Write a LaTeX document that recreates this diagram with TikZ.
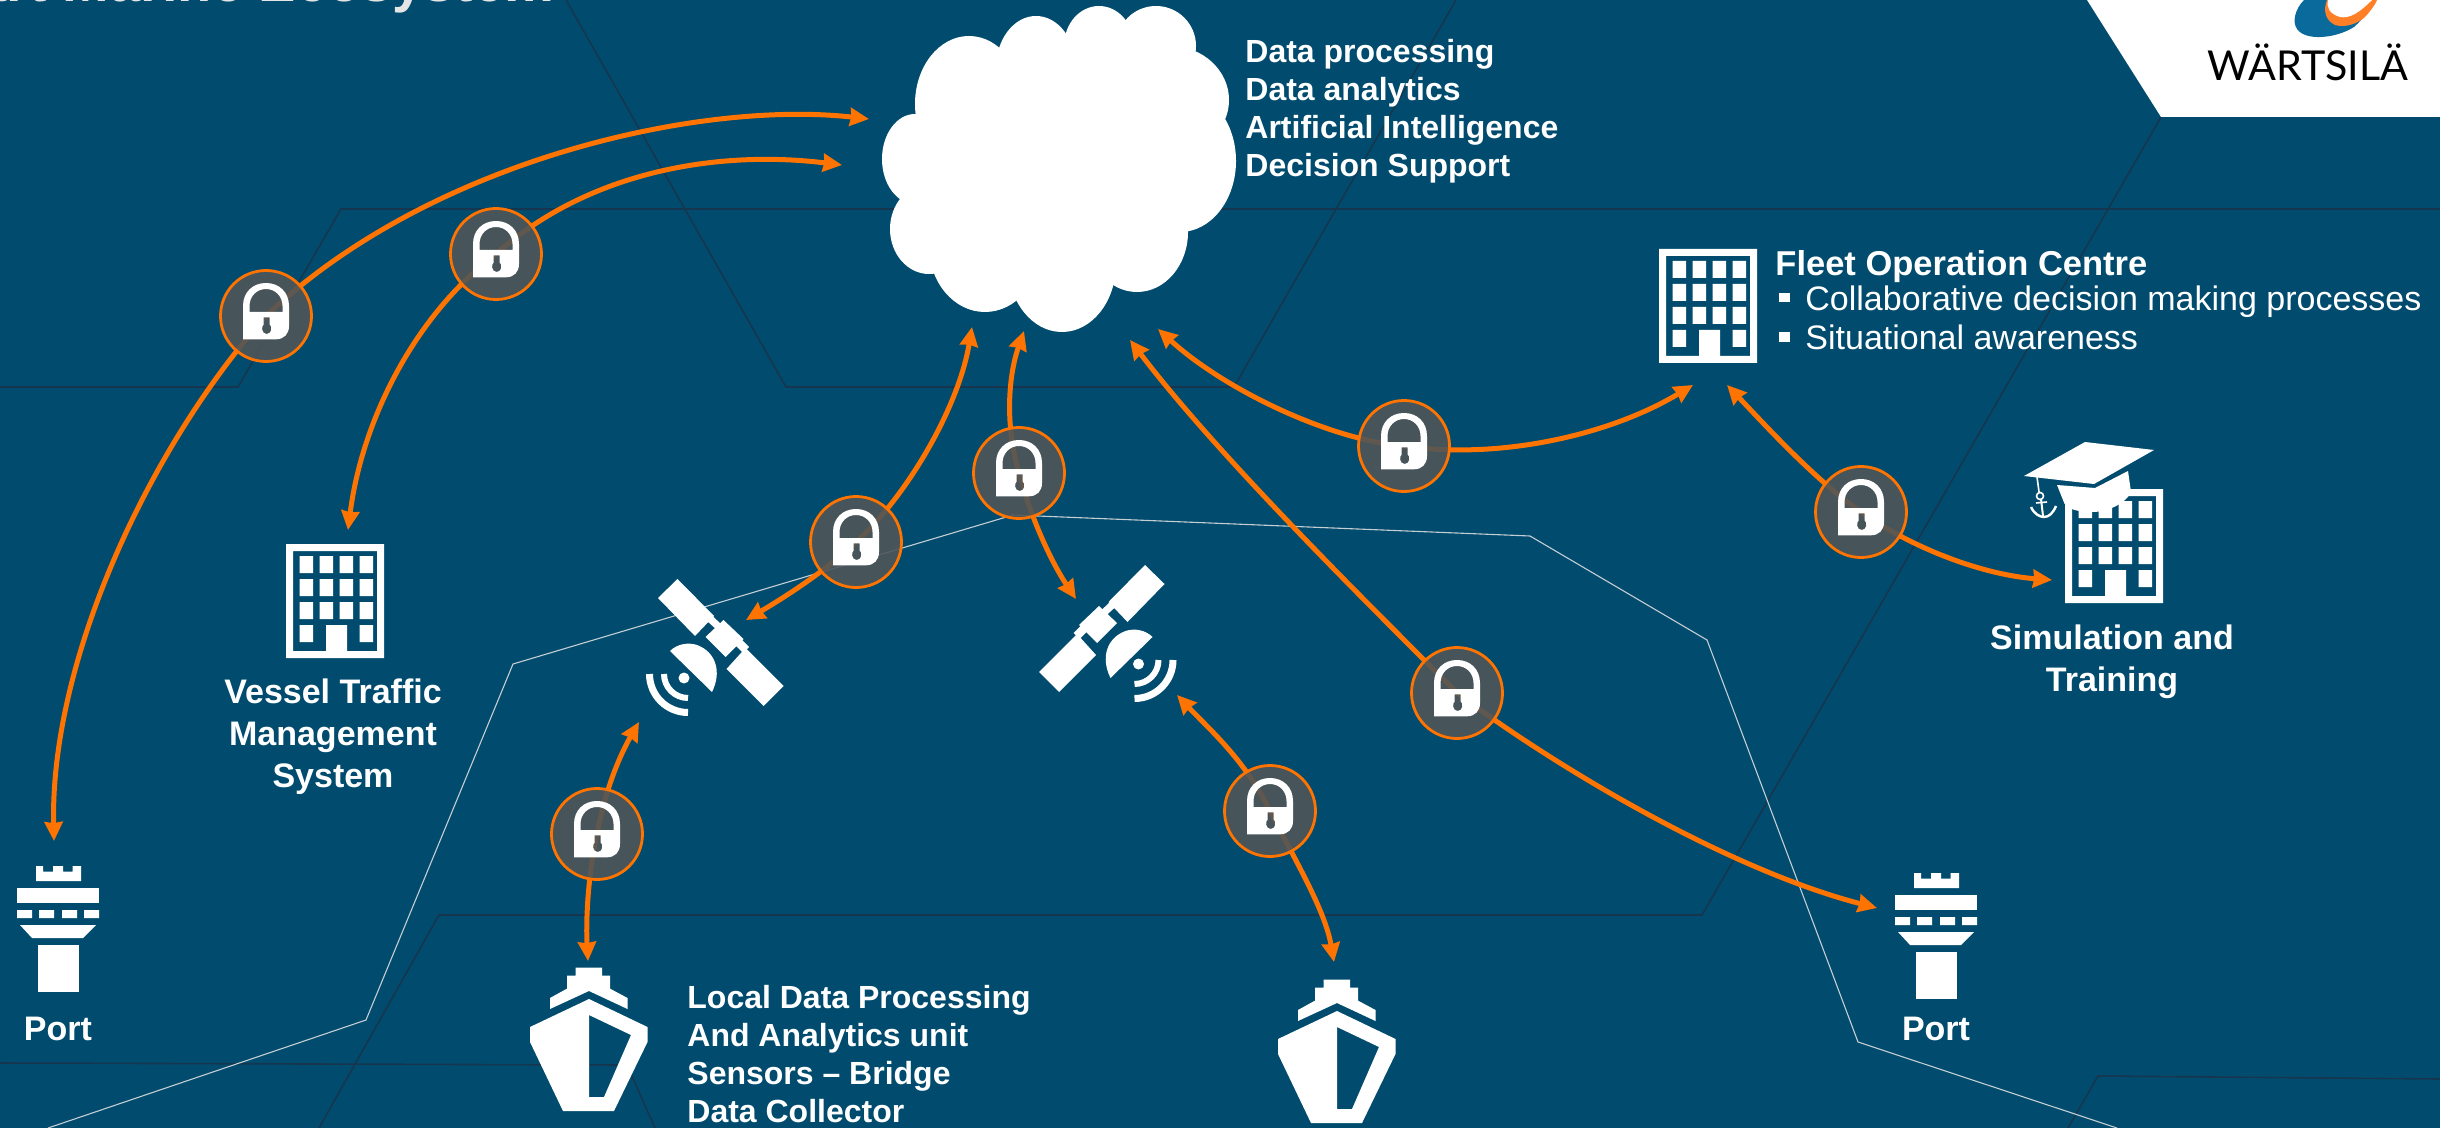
\documentclass[tikz,border=0pt]{standalone}
\usepackage{fontspec}
\setmainfont{Liberation Sans}
\newfontfamily\logofont{Lato}
\usetikzlibrary{arrows.meta}
\pgfdeclarelayer{under}
\pgfsetlayers{under,main}
\definecolor{sea}{HTML}{014C6E}
\definecolor{gridc}{HTML}{163650}
\definecolor{lightl}{HTML}{C5CED3}
\definecolor{orng}{HTML}{FF7300}
\definecolor{lockg}{HTML}{4F5558}
\definecolor{logob}{HTML}{0B6A9C}
\definecolor{logoo}{HTML}{FF7F27}
\tikzset{
  x=0.5pt,y=-0.5pt,
  darkline/.style={draw=gridc,line width=0.8pt},
  paleline/.style={draw=lightl,line width=0.55pt},
  link/.style={draw=orng,line width=2.5pt},
  linkarrow/.style={link,-{Stealth[length=9.5pt,width=9pt,inset=0.6pt]}},
  lockdisc/.style={circle,minimum size=45.5pt,inner sep=0pt,draw=orng,line width=1.4pt,fill=lockg,fill opacity=0.9},
  lbl/.style={text=white,inner sep=0pt,font=\fontsize{17}{21}\selectfont\bfseries},
  lblsmall/.style={text=white,inner sep=0pt,font=\fontsize{16}{19}\selectfont\bfseries},
  plain/.style={text=white,inner sep=0pt,font=\fontsize{17}{20}\selectfont},
  padlock/.pic={
    \fill[white,even odd rule]
      (-23,23.3) -- (-23,-10) .. controls (-23,-24) and (-13,-33) .. (0,-33) .. controls (13,-33) and (23,-24) .. (23,-10) -- (23,10) .. controls (23,18) and (18,23.3) .. (10,23.3) -- cycle
      (-16.5,-4) -- (16.5,-4) -- (16.5,-10) .. controls (16.5,-20) and (9,-27) .. (0,-27) .. controls (-9,-27) and (-16.5,-20) .. (-16.5,-10) -- cycle
      (-2.3,1.3) -- (3.7,1.3) -- (3.7,8.5) .. controls (6.5,10) and (6,18) .. (0.7,18) .. controls (-4.6,18) and (-5,10) .. (-2.3,8.5) -- cycle;
  },
  office/.pic={
    \fill[white,even odd rule] (0,0) rectangle (98,114)
      (7,7) -- (91,7) -- (91,107) -- (61,107) -- (61,81) -- (40,81) -- (40,107) -- (7,107) -- cycle
      (13.5,12) rectangle (27,29) (33.5,12) rectangle (47,29) (53.5,12) rectangle (67,29) (73.5,12) rectangle (87,29)
      (13.5,35) rectangle (27,52) (33.5,35) rectangle (47,52) (53.5,35) rectangle (67,52) (73.5,35) rectangle (87,52)
      (13.5,58) rectangle (27,75) (33.5,58) rectangle (47,75) (53.5,58) rectangle (67,75) (73.5,58) rectangle (87,75)
      (13.5,81) rectangle (27,98) (73.5,81) rectangle (87,98);
  },
  tower/.pic={
    \fill[white] (-22,0) -- (-15,0) -- (-15,5.5) -- (-5,5.5) -- (-5,0) -- (5,0) -- (5,5.5) -- (14.5,5.5) -- (14.5,0) -- (23,0) -- (23,15) -- (-22,15) -- cycle;
    \fill[white] (-41,22) rectangle (41,37);
    \fill[white] (-41,44) rectangle (-26,52) (-19,44) rectangle (-4,52) (4,44) rectangle (19,52) (26,44) rectangle (41,52);
    \fill[white] (-38,59) -- (38,59) -- (25,72) -- (-26,72) -- cycle;
    \fill[white] (-20,79) rectangle (21,126);
  },
  vessel/.pic={
    \fill[white] (-13.5,0) -- (13,0) -- (13,8) -- (21,8) -- (21,21) -- (38.5,30.4) -- (38.5,41.4) -- (0,23.4) -- (-39,41.4) -- (-39,30.4) -- (-22,21) -- (-22,8) -- (-13.5,8) -- cycle;
    \fill[white,even odd rule] (0,31.4) -- (58.5,59.4) -- (58.5,74.4) -- (25,143.4) -- (-26,143.4) -- (-59,74.4) -- (-59,59.4) -- cycle
      (0,47.4) -- (42,67.4) -- (15,129.4) -- (0,129.4) -- cycle;
  },
  sat/.pic={
    \fill[white] (677.5,579) -- (714,616) -- (695,636) -- (658,598) -- cycle;
    \fill[white] (743.5,639) -- (725.5,657) -- (705.5,637) -- (723.5,620) -- cycle;
    \fill[white] (783.5,686) -- (763.5,706) -- (726.5,669) -- (745.5,648) -- cycle;
    \fill[white] (712.5,616) -- (722,625) -- (717,630) -- (707,621) -- cycle;
    \fill[white] (741,639) -- (749,647) -- (743,653) -- (735,645) -- cycle;
    \fill[white] (670,651) .. controls (677,644) and (688,642) .. (697,645) .. controls (716,652) and (722,672) .. (712,692) -- cycle;
    \fill[white] (684,678) circle[radius=5.5];
    \draw[white,line width=3.5pt] (649.5,674) arc[start angle=180,end angle=90,radius=38.5];
    \draw[white,line width=3pt] (664,674) arc[start angle=180,end angle=90,radius=24];
  }
}
\begin{document}
\begin{tikzpicture}
\useasboundingbox (0,0) rectangle (2440,1128);
\clip (0,0) rectangle (2440,1128);

% locks and their padlocks
\node[lockdisc] (L1) at (266,316) {};
\node[lockdisc] (L2) at (496,254) {};
\node[lockdisc] (L3) at (856,542) {};
\node[lockdisc] (L4) at (1019,473) {};
\node[lockdisc] (L5) at (1404,446) {};
\node[lockdisc] (L6) at (1861,512) {};
\node[lockdisc] (L7) at (1457,693) {};
\node[lockdisc] (L8) at (1270,811) {};
\node[lockdisc] (L9) at (597,834) {};
\foreach \n in {L1,L2,L3,L4,L5,L6,L7,L8,L9} { \pic at (\n) {padlock}; }

% free ends of the connectors
\coordinate (a1) at (869,119);  \coordinate (a2) at (54,841);
\coordinate (b1) at (842,165);  \coordinate (b2) at (348,530);
\coordinate (c1) at (972,327);  \coordinate (c2) at (746,620);
\coordinate (d1) at (1024,331); \coordinate (d2) at (1076,599);
\coordinate (e1) at (1130,340); \coordinate (e2) at (1877,908);
\coordinate (f1) at (1158,329); \coordinate (f2) at (1693,385);
\coordinate (g1) at (1727,385); \coordinate (g2) at (2052,580);
\coordinate (h1) at (1177,695); \coordinate (h2) at (1334,962);
\coordinate (i1) at (639,722);  \coordinate (i2) at (588,961);

\begin{pgfonlayer}{under}
\fill[sea] (0,0) rectangle (2440,1128);
% hexagon mesh, dark
\draw[darkline] (566,0) -- (786,387) -- (1234,387) -- (1456,0);
\draw[darkline] (0,387) -- (238,387) -- (341,209) -- (2440,209);
\draw[darkline] (2161,117) -- (1702,915) -- (439,915) -- (319,1128);
\draw[darkline] (0,1063) -- (627,1065) -- (655,1128);
\draw[darkline] (2068,1128) -- (2098,1076) -- (2440,1079);
% hexagon mesh, pale
\draw[paleline] (48,1128) -- (366,1020) -- (513,664) -- (1013,515) -- (1530,536) -- (1707,640) -- (1858,1042) -- (2117,1128);
% connectors
\draw[linkarrow] (L1.center) .. controls (430,160) and (700,100) .. (a1);
\draw[linkarrow] (L1.center) .. controls (150,446) and (50,660) .. (a2);
\draw[linkarrow] (L2.center) .. controls (590,170) and (720,150) .. (b1);
\draw[linkarrow] (L2.center) .. controls (415,315) and (362,420) .. (b2);
\draw[linkarrow] (L3.center) .. controls (905,498) and (958,410) .. (c1);
\draw[linkarrow] (L3.center) .. controls (825,572) and (780,600) .. (c2);
\draw[linkarrow] (L4.center) .. controls (1006,430) and (1007,380) .. (d1);
\draw[linkarrow] (L4.center) .. controls (1030,515) and (1050,560) .. (d2);
\draw[linkarrow] (L7.center) .. controls (1395,630) and (1225,465) .. (e1);
\draw[linkarrow] (L7.center) .. controls (1560,770) and (1730,870) .. (e2);
\draw[linkarrow] (L5.center) .. controls (1330,440) and (1225,390) .. (f1);
\draw[linkarrow] (L5.center) .. controls (1500,460) and (1610,435) .. (f2);
\draw[linkarrow] (L6.center) .. controls (1815,480) and (1765,425) .. (g1);
\draw[linkarrow] (L6.center) .. controls (1915,550) and (1985,575) .. (g2);
\draw[linkarrow] (L8.center) .. controls (1245,760) and (1210,730) .. (h1);
\draw[linkarrow] (L8.center) .. controls (1295,860) and (1325,910) .. (h2);
\draw[linkarrow] (L9.center) .. controls (605,790) and (620,755) .. (i1);
\draw[linkarrow] (L9.center) .. controls (587,880) and (586,925) .. (i2);
\end{pgfonlayer}

% title, cut by the top edge
\node[anchor=base east,inner sep=0pt,text=white!90!black,font=\fontsize{28}{30}\selectfont\bfseries] (title) at (555,2) {Smart Marine Ecosystem};

% logo corner
\fill[white] (2087,0) -- (2161,117) -- (2440,117) -- (2440,0) -- cycle;
\fill[logob] (2304,0) .. controls (2295,9) and (2292,22) .. (2297,29) .. controls (2305,41) and (2335,39) .. (2354,27) .. controls (2362,20) and (2372,8) .. (2376,0) -- cycle;
\fill[logoo] (2327,0) .. controls (2323,10) and (2325,20) .. (2335,25) .. controls (2345,28) and (2358,24) .. (2366,16) .. controls (2371,10) and (2375,5) .. (2377,0) -- cycle;
\fill[white] (2328,0) .. controls (2326,8) and (2330,14) .. (2340,17) .. controls (2350,19) and (2360,12) .. (2372,0) -- cycle;
\node[anchor=base west,inner sep=0pt,text=black,font=\logofont\fontsize{20.6}{22}\selectfont] (logo) at (2207,81) {WÄRTSILÄ};

% cloud
\fill[white] (969,104) ellipse [x radius=54,y radius=68];
\fill[white] (1036,68) ellipse [x radius=40,y radius=52];
\fill[white] (1099,46) ellipse [x radius=35,y radius=40];
\fill[white] (1156,46) ellipse [x radius=40,y radius=40];
\fill[white] (1170,100) ellipse [x radius=59,y radius=54];
\fill[white] (1180,161) ellipse [x radius=56,y radius=71];
\fill[white] (1137,232) ellipse [x radius=51,y radius=60];
\fill[white] (1062,264) ellipse [x radius=54,y radius=68];
\fill[white] (985,246) ellipse [x radius=56,y radius=66];
\fill[white] (929,229) ellipse [x radius=39,y radius=45];
\fill[white] (915,159) ellipse [x radius=33,y radius=45];
\fill[white] (1050,160) ellipse [x radius=125,y radius=110];

\node[lblsmall,anchor=north west,align=left] (cloudtxt) at (1245,39) {Data processing\\Data analytics\\Artificial Intelligence\\Decision Support};

% fleet centre
\pic at (1659,249) {office};
\node[anchor=base west,text=white,inner sep=0pt,font=\fontsize{17.25}{20}\selectfont\bfseries] (fleet) at (1775,276) {Fleet Operation Centre};
\fill[white] (1779,293) rectangle (1789.5,302.5);
\fill[white] (1779,332) rectangle (1789.5,342);
\node[plain,anchor=base west] (fleeta) at (1805,310.5) {Collaborative decision making processes};
\node[plain,anchor=base west] (fleetb) at (1805,350) {Situational awareness};

% vessel traffic
\pic at (286,544) {office};
\node[lbl,anchor=north,align=center] (vts) at (333,678.5) {Vessel Traffic\\Management\\System};

% simulation
\pic at (2065,489) {office};
\fill[white] (2085,442) -- (2154,450) -- (2094,484) -- (2024,476) -- cycle;
\fill[white] (2057,485) -- (2095,488) -- (2128,471) -- (2131,492) .. controls (2125,505) and (2105,512) .. (2093,512) .. controls (2080,512) and (2065,510) .. (2063,500) -- cycle;
\draw[white,line width=0.8pt] (2037,477) -- (2039,492);
\draw[white,line width=0.8pt] (2040,496) circle[radius=3.5];
\draw[white,line width=1pt] (2041,499) -- (2043,516);
\draw[white,line width=0.8pt] (2036,503) -- (2047,502);
\draw[white,line width=1.2pt] (2031,507) .. controls (2034,514) and (2040,517) .. (2044,517) .. controls (2049,517) and (2053,513) .. (2056,506);
\node[lbl,anchor=north,align=center] (sim) at (2112,624) {Simulation and\\Training};

% ports
\pic at (58,866) {tower};
\node[lbl,anchor=base] (port1) at (58,1040.5) {Port};
\pic at (1936,873) {tower};
\node[lbl,anchor=base] (port2) at (1936,1040.5) {Port};

% ships
\pic at (589,967.6) {vessel};
\pic at (1337,979.6) {vessel};
\node[lblsmall,anchor=north west,align=left] (shiptxt) at (687,984.5) {Local Data Processing\\And Analytics unit\\Sensors – Bridge\\Data Collector};

% satellites
\pic at (0,0) {sat};
\begin{scope}[shift={(1822.5,-14)},xscale=-1]
\pic[transform shape] at (0,0) {sat};
\end{scope}
\end{tikzpicture}
\end{document}
